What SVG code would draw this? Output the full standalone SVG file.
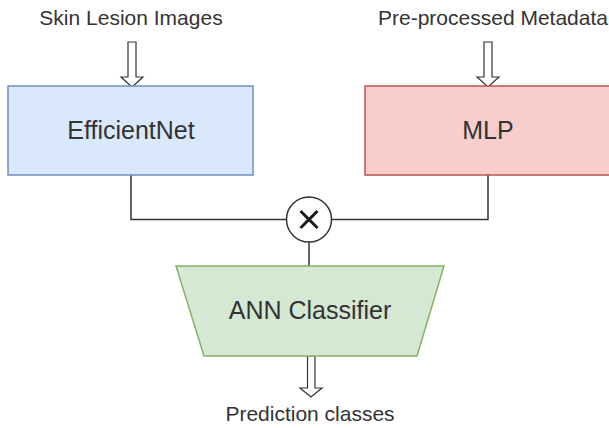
<svg xmlns="http://www.w3.org/2000/svg" width="609" height="428" viewBox="0 0 609 428">
<style>
.t{font-family:"Liberation Sans",Arial,sans-serif;fill:#333333;text-anchor:middle}
.big{font-size:25px}
.sm{font-size:21px}
.conn{fill:none;stroke:#333333;stroke-width:1.5}
.harrow{fill:#ffffff;stroke:#333333;stroke-width:1.2;stroke-linejoin:miter}
</style>
<rect width="609" height="428" fill="#ffffff"/>
<g id="connectors">
<polyline class="conn" points="131,175 131,219.5 287,219.5"/>
<polyline class="conn" points="331,219.5 488,219.5 488,175"/>
<line class="conn" x1="309" y1="242" x2="309" y2="266"/>
<polygon class="harrow" points="128,42 136,42 136,77 143,77 132,87 121,77 128,77"/>
<polygon class="harrow" points="484,42 492,42 492,77 499,77 488,87 477,77 484,77"/>
<polygon class="harrow" points="307.5,356 315,356 315,388 322,388 311,397 300,388 307.5,388"/>
</g>
<g id="label-skin">
<text class="t sm" x="131" y="25">Skin Lesion Images</text>
</g>
<g id="label-meta">
<text class="t sm" x="493" y="25">Pre-processed Metadata</text>
</g>
<g id="efficientnet">
<rect x="8" y="86" width="245" height="89" fill="#dae8fc" stroke="#6c8ebf" stroke-width="1.5"/>
<text class="t big" x="131" y="139">EfficientNet</text>
</g>
<g id="mlp">
<rect x="365" y="86" width="246" height="89" fill="#f8cecc" stroke="#b85450" stroke-width="1.5"/>
<text class="t big" x="488" y="139">MLP</text>
</g>
<g id="multiply">
<circle cx="309" cy="219.5" r="22.5" fill="#ffffff" stroke="#333333" stroke-width="1.5"/>
<path d="M300.5,211 L317.5,228 M317.5,211 L300.5,228" stroke="#1a1a1a" stroke-width="3" fill="none"/>
</g>
<g id="ann">
<polygon points="176,266 444,266 417,356 204,356" fill="#d5e8d4" stroke="#82b366" stroke-width="1.5"/>
<text class="t big" x="310" y="319">ANN Classifier</text>
</g>
<g id="label-pred">
<text class="t sm" x="310" y="421">Prediction classes</text>
</g>
</svg>
